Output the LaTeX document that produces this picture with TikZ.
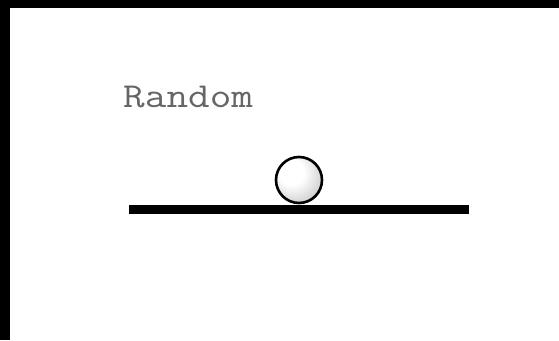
\documentclass[tikz,border=0pt]{standalone}
\usetikzlibrary{positioning}
\pgfdeclareradialshading{pearl}{\pgfpoint{-12bp}{12bp}}{color(0bp)=(white); color(14bp)=(white); color(34bp)=(black!22); color(50bp)=(black!45)}

\begin{document}
\begin{tikzpicture}[x=1pt, y=-1pt, every node/.style={font=\ttfamily\fontsize{35}{40}\selectfont, inner sep=0pt}]
  % frame
  \fill[black] (0,0) rectangle (559,340);
  \fill[white] (10,8) rectangle (559,340);
  \useasboundingbox (0,0) rectangle (559,340);
  % label
  \node[anchor=base west, text=black!60, xscale=1.2] (rnd) at (123,107) {Random};
  % track
  \draw[line width=9pt] (129,209) -- (469,209);
  % ball
  \shade[shading=pearl] (299,180) circle (23pt);
  \draw[line width=2.6pt] (299,180) circle (23pt);
\end{tikzpicture}
\end{document}
